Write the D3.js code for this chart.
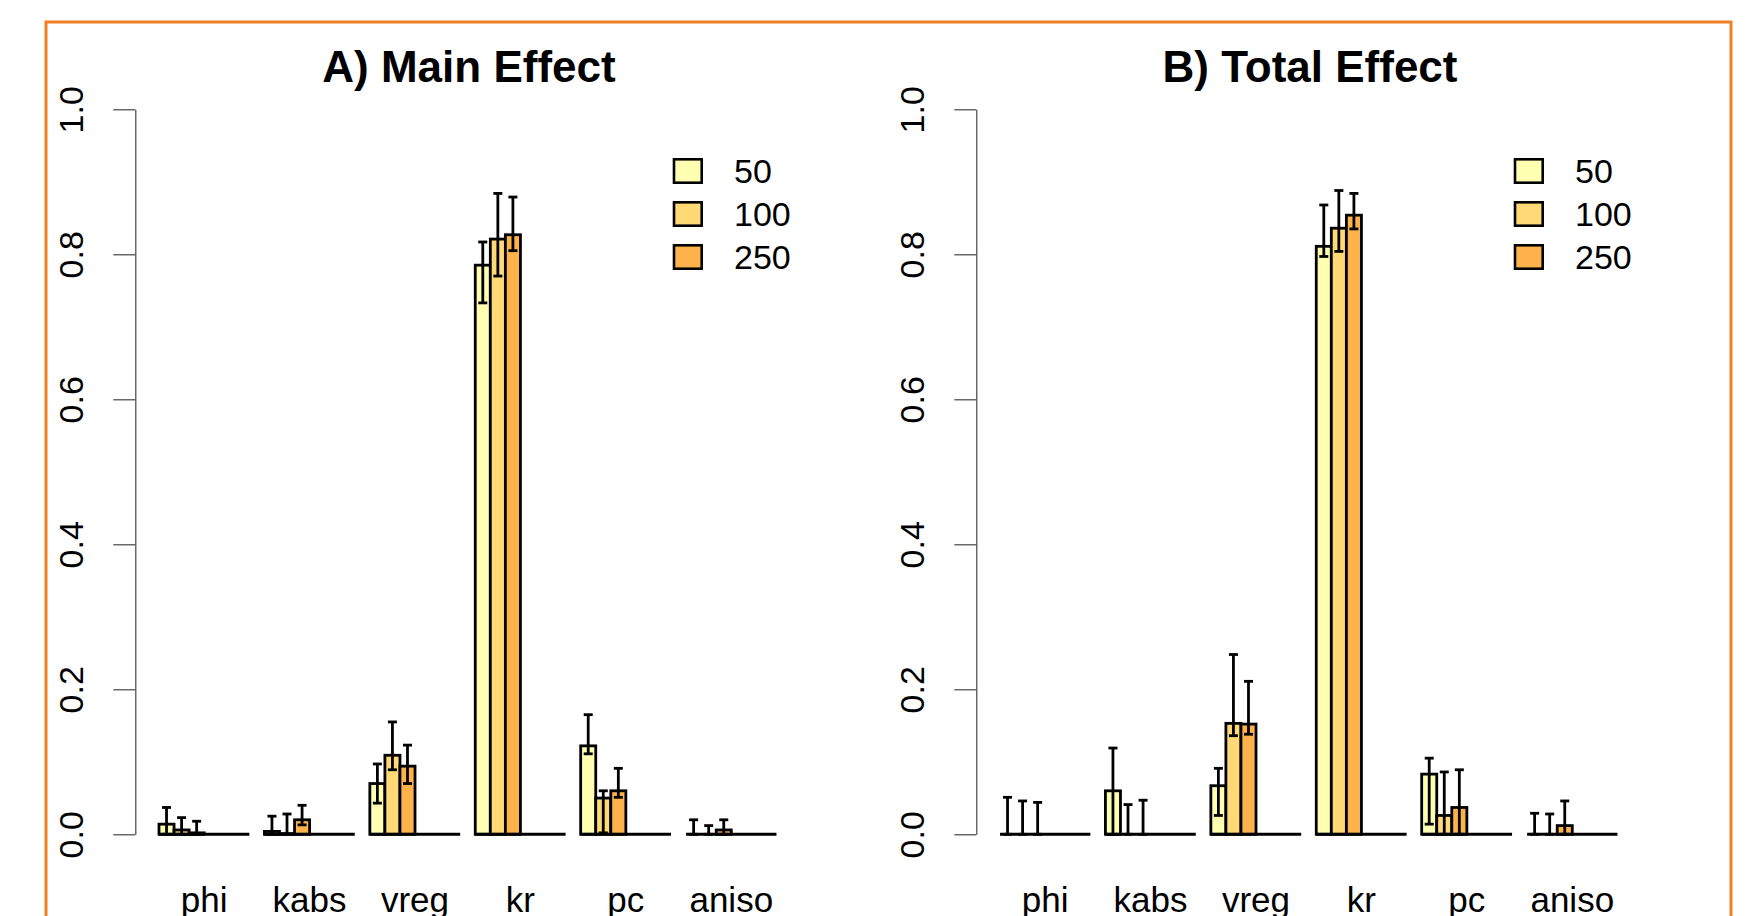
<!DOCTYPE html>
<html>
<head>
<meta charset="utf-8">
<script src="https://cdn.jsdelivr.net/npm/d3@7"></script>
<style>
  body { margin: 0; background: #fff; }
  svg { display: block; font-family: "Liberation Sans", Arial, sans-serif; }
</style>
</head>
<body>
<svg id="chart" width="1755" height="916"></svg>
<script>
// categories and series
var params = ["phi", "kabs", "vreg", "kr", "pc", "aniso"];
var sizes = ["50", "100", "250"];
var yTicks = [0, 0.2, 0.4, 0.6, 0.8, 1.0];

// A) main effect: value, lower, upper per sample size (rows follow params)
var mainVal = [
  [0.014, 0.006, 0.002],
  [0.004, 0.001, 0.020],
  [0.070, 0.109, 0.094],
  [0.785, 0.821, 0.827],
  [0.122, 0.050, 0.060],
  [0.000, 0.000, 0.006]
];
var mainLo = [
  [0.000, 0.000, 0.000],
  [0.000, 0.000, 0.013],
  [0.043, 0.089, 0.070],
  [0.733, 0.770, 0.805],
  [0.111, 0.002, 0.051],
  [0.000, 0.000, 0.000]
];
var mainHi = [
  [0.037, 0.023, 0.018],
  [0.025, 0.028, 0.040],
  [0.097, 0.155, 0.123],
  [0.817, 0.884, 0.879],
  [0.165, 0.060, 0.091],
  [0.020, 0.012, 0.020]
];

// B) total effect
var totalVal = [
  [0.000, 0.000, 0.000],
  [0.060, 0.000, 0.000],
  [0.067, 0.153, 0.152],
  [0.811, 0.836, 0.854],
  [0.083, 0.026, 0.037],
  [0.000, 0.000, 0.012]
];
var totalLo = [
  [0.000, 0.000, 0.000],
  [0.000, 0.000, 0.000],
  [0.026, 0.136, 0.138],
  [0.797, 0.804, 0.835],
  [0.014, 0.000, 0.000],
  [0.000, 0.000, 0.000]
];
var totalHi = [
  [0.051, 0.046, 0.044],
  [0.119, 0.041, 0.047],
  [0.091, 0.248, 0.211],
  [0.868, 0.888, 0.884],
  [0.105, 0.086, 0.089],
  [0.029, 0.028, 0.046]
];

var colors = ["#FFFFB2", "#FED976", "#FEB24C"];

var svg = d3.select("#chart");

// orange frame
svg.append("rect")
  .attr("x", 46).attr("y", 22)
  .attr("width", 1685).attr("height", 1000)
  .attr("fill", "none")
  .attr("stroke", "#ef8024")
  .attr("stroke-width", 3);

function drawPanel(offsetX, title, vals, lo, hi) {
  var g = svg.append("g").attr("transform", "translate(" + offsetX + ",0)");

  var y = d3.scaleLinear().domain([0, 1]).range([834.3, 109.3]);

  var w = 15.06; // one bar slot
  var x0 = d3.scaleBand()
    .domain(params)
    .range([159, 159 + params.length * 7 * w - w])
    .paddingInner(1 / 7)
    .paddingOuter(0);

  // three bars in the first half of each group of six slots
  var x1 = d3.scaleBand()
    .domain(sizes)
    .range([0, x0.bandwidth() / 2]);

  // y axis
  var axis = g.append("g")
    .attr("transform", "translate(135.3,0)")
    .call(d3.axisLeft(y).tickValues(yTicks).tickFormat(d3.format(".1f"))
      .tickSize(22).tickSizeOuter(0));
  axis.select(".domain").attr("stroke", "#444").attr("stroke-width", 1.2);
  axis.selectAll(".tick line").attr("stroke", "#444").attr("stroke-width", 1.2);
  axis.selectAll(".tick text")
    .attr("x", null).attr("dy", null)
    .attr("text-anchor", "middle")
    .attr("transform", "translate(-52,0) rotate(-90)")
    .attr("font-size", 34)
    .attr("font-family", "Liberation Sans, Arial, sans-serif")
    .attr("fill", "#000");

  var groups = g.selectAll(".grp")
    .data(params)
    .enter().append("g")
      .attr("class", "grp")
      .attr("transform", function(d) { return "translate(" + x0(d) + ",0)"; });

  // bars
  groups.selectAll("rect")
    .data(function(d, i) { return sizes.map(function(s, j) { return {s: s, j: j, v: vals[i][j]}; }); })
    .enter().append("rect")
      .attr("x", function(d) { return x1(d.s); })
      .attr("y", function(d) { return y(d.v); })
      .attr("width", x1.bandwidth())
      .attr("height", function(d) { return y(0) - y(d.v); })
      .attr("fill", function(d) { return colors[d.j]; })
      .attr("stroke", "#000")
      .attr("stroke-width", 2.8);

  // group baseline (zero-height slots)
  groups.append("line")
    .attr("x1", 0).attr("x2", x0.bandwidth())
    .attr("y1", y(0)).attr("y2", y(0))
    .attr("stroke", "#000")
    .attr("stroke-width", 3);

  // error bars
  var err = groups.selectAll(".err")
    .data(function(d, i) { return sizes.map(function(s, j) { return {s: s, lo: lo[i][j], hi: hi[i][j]}; }); })
    .enter().append("g")
      .attr("class", "err")
      .attr("transform", function(d) { return "translate(" + (x1(d.s) + x1.bandwidth() / 2) + ",0)"; });

  err.append("line")
    .attr("x1", 0).attr("x2", 0)
    .attr("y1", function(d) { return y(d.lo); })
    .attr("y2", function(d) { return y(d.hi); })
    .attr("stroke", "#000").attr("stroke-width", 2.8);
  err.append("line")
    .attr("x1", -4.5).attr("x2", 4.5)
    .attr("y1", function(d) { return y(d.hi); })
    .attr("y2", function(d) { return y(d.hi); })
    .attr("stroke", "#000").attr("stroke-width", 2.8);
  err.append("line")
    .attr("x1", -4.5).attr("x2", 4.5)
    .attr("y1", function(d) { return y(d.lo); })
    .attr("y2", function(d) { return y(d.lo); })
    .attr("stroke", "#000").attr("stroke-width", 2.8);

  // category labels
  groups.append("text")
    .attr("x", x0.bandwidth() / 2)
    .attr("y", 912)
    .attr("text-anchor", "middle")
    .attr("font-size", 35)
    .text(function(d) { return d; });

  // title
  g.append("text")
    .attr("x", 469)
    .attr("y", 82.3)
    .attr("text-anchor", "middle")
    .attr("font-size", 44)
    .attr("font-weight", "bold")
    .text(title);

  // legend
  var legend = g.append("g")
    .selectAll("g")
    .data(sizes)
    .enter().append("g")
      .attr("transform", function(d, i) { return "translate(674," + (171 + i * 43) + ")"; });

  legend.append("rect")
    .attr("x", 0).attr("y", -11.7)
    .attr("width", 27.7).attr("height", 23.4)
    .attr("fill", function(d, i) { return colors[i]; })
    .attr("stroke", "#000")
    .attr("stroke-width", 2.6);

  legend.append("text")
    .attr("x", 60)
    .attr("dy", "0.36em")
    .attr("font-size", 34)
    .text(function(d) { return d; });
}

drawPanel(0, "A) Main Effect", mainVal, mainLo, mainHi);
drawPanel(841, "B) Total Effect", totalVal, totalLo, totalHi);
</script>
</body>
</html>
